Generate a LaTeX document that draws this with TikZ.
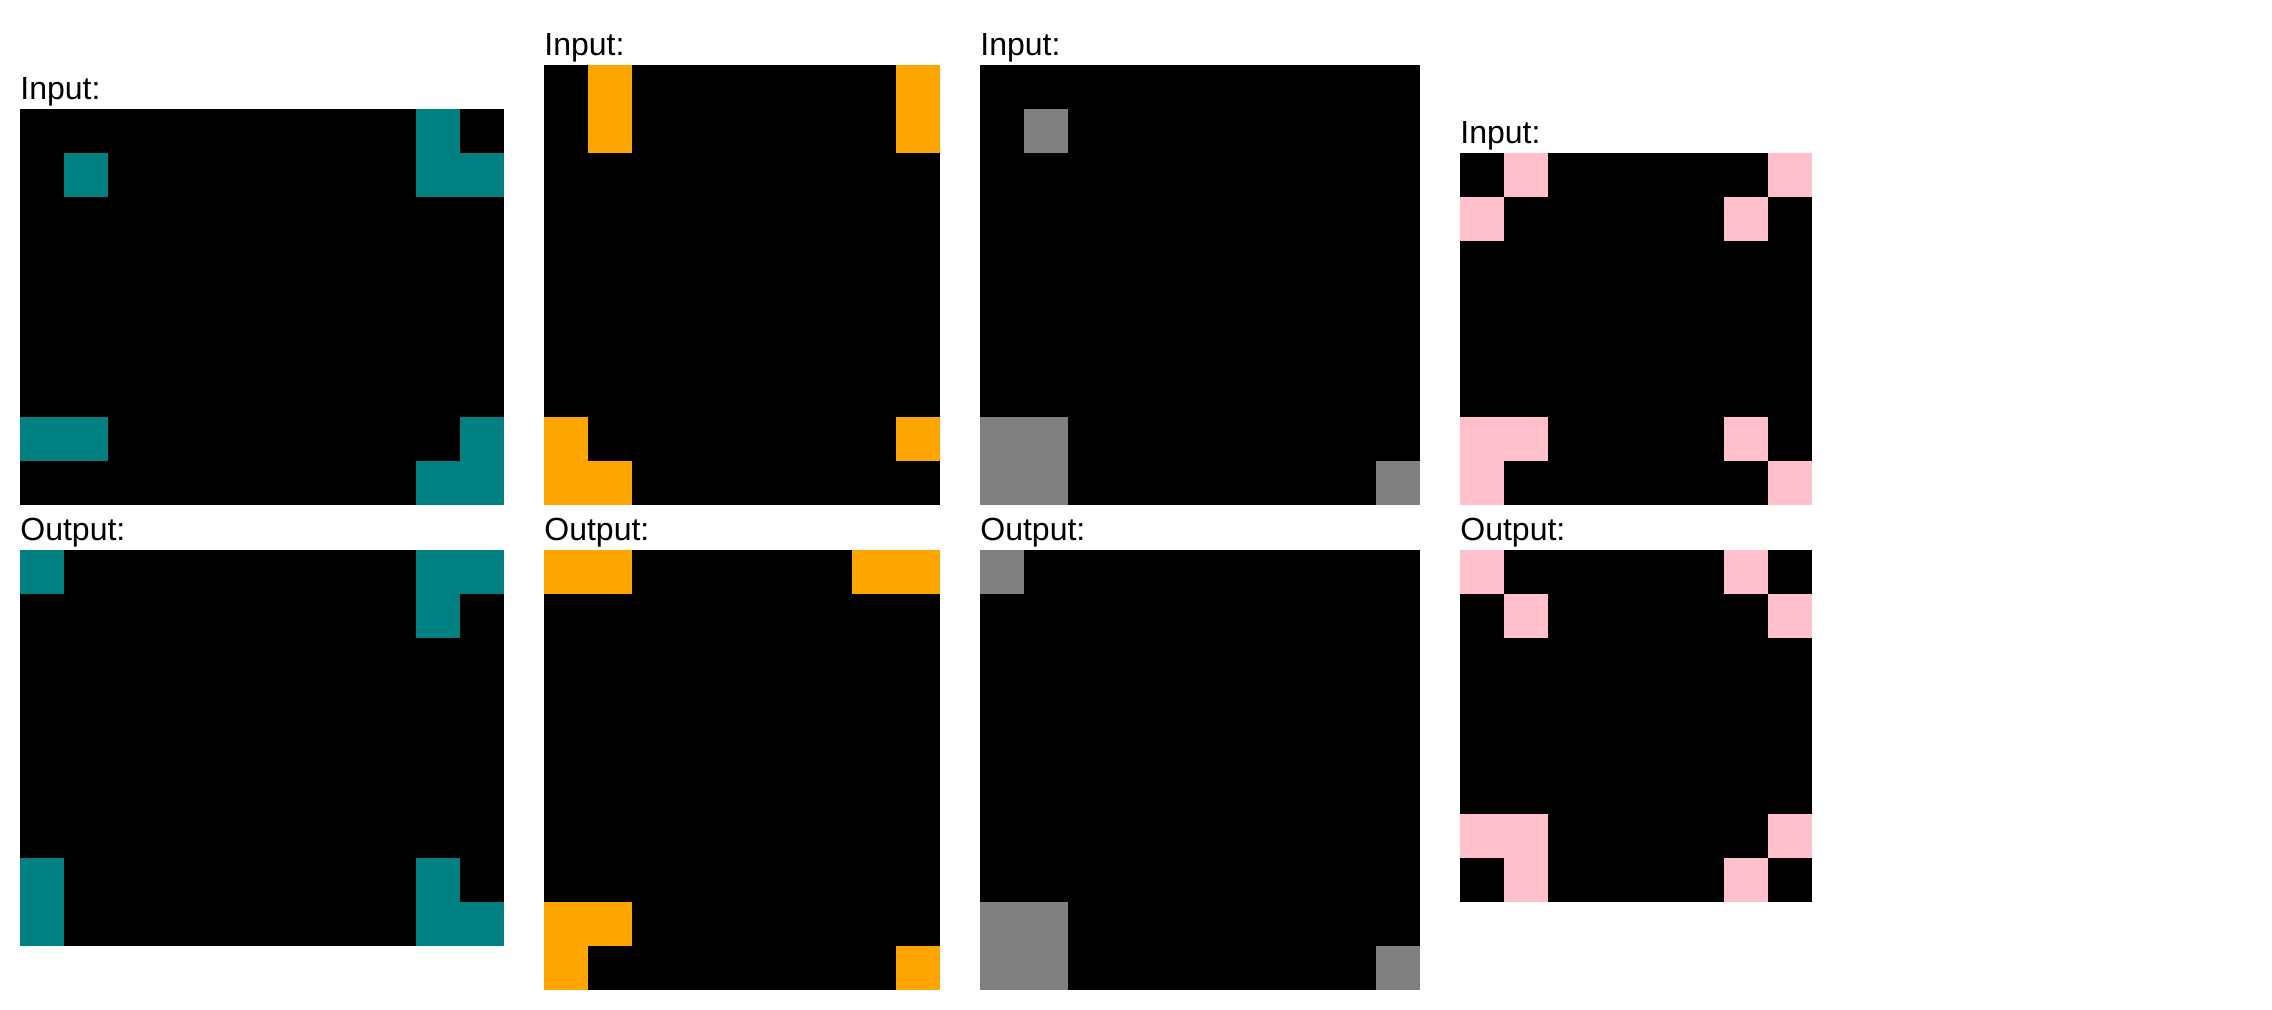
\documentclass[tikz,border=0pt]{standalone}
\usepackage{fontspec}
\setmainfont{Liberation Sans}
\definecolor{cteal}{HTML}{008080}
\definecolor{corange}{HTML}{FFA500}
\definecolor{cgray}{HTML}{808080}
\definecolor{cpink}{HTML}{FFC0CB}
\newcommand{\arcgrid}[6]{%
  \fill[black] (#1,#2) rectangle ++({#3*44},{#4*44});
  \foreach \c/\r in {#6} {\fill[#5] ({#1+\c*44},{#2+\r*44}) rectangle ++(44,44);}
}
\begin{document}
\begin{tikzpicture}[x=0.5pt,y=-0.5pt,
  lbl/.style={anchor=base west, inner sep=0pt, font=\fontsize{16pt}{19pt}\selectfont}]
\useasboundingbox (0,0) rectangle (2272,1010);
\fill[white] (0,0) rectangle (2272,1010);
% grid 1
\node[lbl] (in1) at (20,100) {Input:};
\arcgrid{20}{109}{11}{9}{cteal}{9/0,1/1,9/1,10/1,0/7,1/7,10/7,9/8,10/8}
\node[lbl] (out1) at (20,541) {Output:};
\arcgrid{20}{550}{11}{9}{cteal}{0/0,9/0,10/0,9/1,0/7,9/7,0/8,9/8,10/8}
% grid 2
\node[lbl] (in2) at (544,56) {Input:};
\arcgrid{544}{65}{9}{10}{corange}{1/0,8/0,1/1,8/1,0/8,8/8,0/9,1/9}
\node[lbl] (out2) at (544,541) {Output:};
\arcgrid{544}{550}{9}{10}{corange}{0/0,1/0,7/0,8/0,0/8,1/8,0/9,8/9}
% grid 3
\node[lbl] (in3) at (980,56) {Input:};
\arcgrid{980}{65}{10}{10}{cgray}{1/1,0/8,1/8,0/9,1/9,9/9}
\node[lbl] (out3) at (980,541) {Output:};
\arcgrid{980}{550}{10}{10}{cgray}{0/0,0/8,1/8,0/9,1/9,9/9}
% grid 4
\node[lbl] (in4) at (1460,144) {Input:};
\arcgrid{1460}{153}{8}{8}{cpink}{1/0,7/0,0/1,6/1,0/6,1/6,6/6,0/7,7/7}
\node[lbl] (out4) at (1460,541) {Output:};
\arcgrid{1460}{550}{8}{8}{cpink}{0/0,6/0,1/1,7/1,0/6,1/6,7/6,1/7,6/7}
\end{tikzpicture}
\end{document}
